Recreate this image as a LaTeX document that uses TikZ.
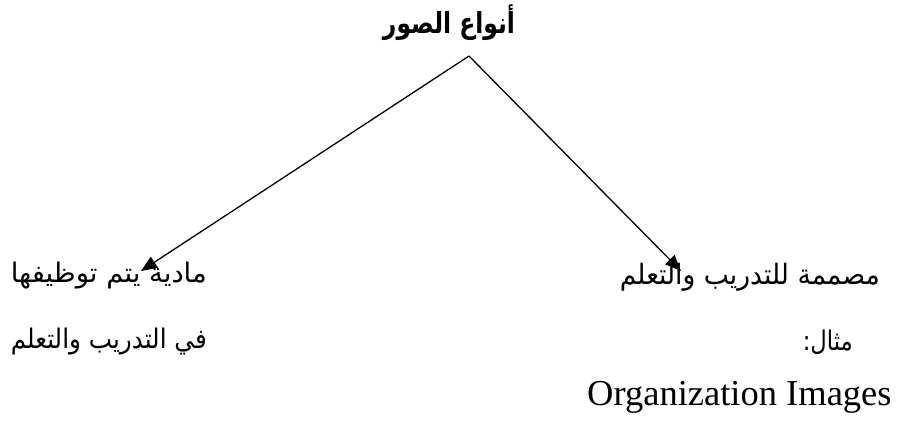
\documentclass[tikz,border=0pt]{standalone}
\usepackage{fontspec}
\usepackage{graphicx}
\setmainfont{Liberation Serif}
\newfontfamily\arabicfont[Script=Arabic]{DejaVu Sans}
\TeXXeTstate=1
\usetikzlibrary{arrows.meta}
\newcommand{\fitwidth}[2]{\resizebox{#1}{\height}{#2}}
\begin{document}
\begin{tikzpicture}[x=1pt,y=-1pt,
  conn/.style={line width=1.3pt, -{Triangle[length=16pt,width=13pt]}},
  titletext/.style={inner sep=0pt, font=\arabicfont\bfseries\fontsize{29}{33}\selectfont},
  lefttext/.style={inner sep=0pt, anchor=base east, font=\arabicfont\fontsize{27}{31}\selectfont},
  righttext/.style={inner sep=0pt, anchor=base east, font=\arabicfont\fontsize{28}{32}\selectfont},
  exampletext/.style={inner sep=0pt, anchor=base east, font=\arabicfont\fontsize{27}{31}\selectfont},
  latintext/.style={inner sep=0pt, anchor=base west, font=\fontsize{36.5}{40}\selectfont}]
\useasboundingbox (0,0) rectangle (898,421);
\node[titletext] (title) at (449,23) {\fitwidth{132pt}{\beginR أنواع الصور\endR}};
\coordinate (apex) at (469,56);
\coordinate (ltip) at (141,271);
\coordinate (rtip) at (681,271);
\node[lefttext] (l1) at (207,282) {\fitwidth{196pt}{\beginR مادية يتم توظيفها\endR}};
\node[lefttext] (l2) at (207,348) {\fitwidth{196pt}{\beginR في التدريب والتعلم\endR}};
\node[righttext] (r1) at (880,284) {\fitwidth{260pt}{\beginR مصممة للتدريب والتعلم\endR}};
\node[exampletext] (r2) at (853,350) {\fitwidth{50pt}{مثال:}};
\node[latintext] (r3) at (587,405) {Organization Images};
\draw[conn] (apex) -- (ltip);
\draw[conn] (apex) -- (rtip);
\end{tikzpicture}
\end{document}
